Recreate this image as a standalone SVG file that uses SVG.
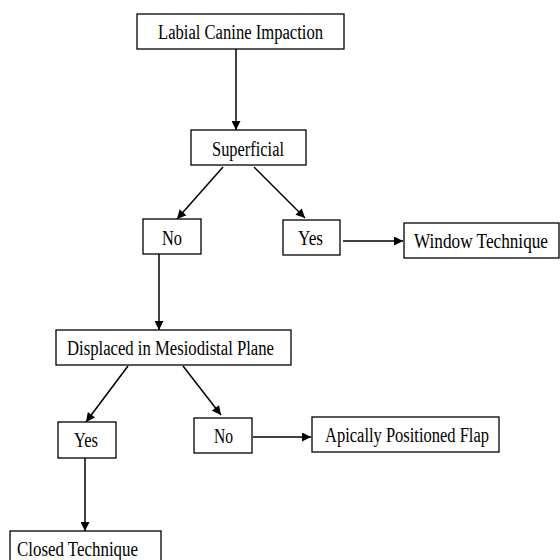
<svg xmlns="http://www.w3.org/2000/svg" width="560" height="560" viewBox="0 0 560 560">
<defs>
<marker id="ah" viewBox="0 0 10 10" refX="10" refY="5" markerWidth="10" markerHeight="9" markerUnits="userSpaceOnUse" orient="auto">
<path d="M0,0 L10,5 L0,10 z" fill="#000"/>
</marker>
<style>
rect{fill:#fff;stroke:#000;stroke-width:1.3}
text{font-family:"Liberation Serif","Times New Roman",serif;font-size:20px;fill:#000}
.c line{stroke:#000;stroke-width:1.5;marker-end:url(#ah)}
</style>
</defs>
<rect x="0" y="0" width="560" height="560" style="fill:#fff;stroke:none"/>
<g class="c" id="connectors">
<line x1="236" y1="49" x2="236" y2="130"/>
<line x1="223" y1="167" x2="177" y2="219"/>
<line x1="254" y1="167" x2="305" y2="218"/>
<line x1="343" y1="241" x2="403" y2="241"/>
<line x1="159" y1="254" x2="159" y2="330"/>
<line x1="128" y1="366" x2="86" y2="422"/>
<line x1="183" y1="366" x2="221" y2="415"/>
<line x1="253" y1="437" x2="311" y2="437"/>
<line x1="85" y1="458" x2="85" y2="531"/>
</g>
<g id="n1"><rect x="137" y="14" width="207" height="35"/><text x="158" y="39" textLength="165" lengthAdjust="spacingAndGlyphs">Labial Canine Impaction</text></g>
<g id="n2"><rect x="191" y="130" width="115" height="35"/><text x="212" y="156" textLength="72" lengthAdjust="spacingAndGlyphs">Superficial</text></g>
<g id="n3"><rect x="143" y="219" width="58" height="35"/><text x="162" y="245" textLength="20" lengthAdjust="spacingAndGlyphs">No</text></g>
<g id="n4"><rect x="283" y="220" width="57" height="35"/><text x="298" y="245" textLength="25" lengthAdjust="spacingAndGlyphs">Yes</text></g>
<g id="n5"><rect x="404" y="223" width="155" height="35"/><text x="414" y="248" textLength="134" lengthAdjust="spacingAndGlyphs">Window Technique</text></g>
<g id="n6"><rect x="56" y="330" width="235" height="35"/><text x="67" y="355" textLength="207" lengthAdjust="spacingAndGlyphs">Displaced in Mesiodistal Plane</text></g>
<g id="n7"><rect x="58" y="422" width="58" height="36"/><text x="74" y="447" textLength="24" lengthAdjust="spacingAndGlyphs">Yes</text></g>
<g id="n8"><rect x="194" y="418" width="58" height="35"/><text x="214" y="443" textLength="19" lengthAdjust="spacingAndGlyphs">No</text></g>
<g id="n9"><rect x="312" y="417" width="187" height="35"/><text x="325" y="442" textLength="164" lengthAdjust="spacingAndGlyphs">Apically Positioned Flap</text></g>
<g id="n10"><rect x="10" y="531" width="151" height="40"/><text x="17" y="556" textLength="121" lengthAdjust="spacingAndGlyphs">Closed Technique</text></g>
</svg>
